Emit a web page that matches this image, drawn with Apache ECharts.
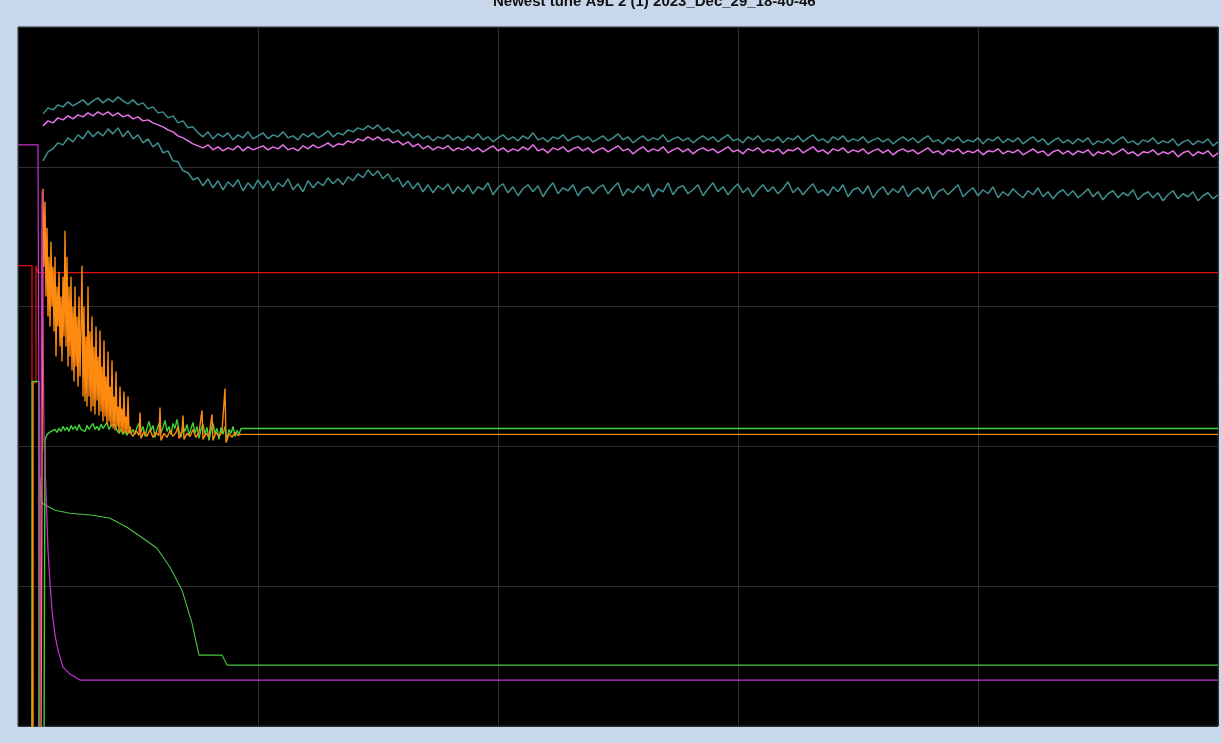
<!DOCTYPE html>
<html>
<head>
<meta charset="utf-8">
<script src="https://cdn.jsdelivr.net/npm/echarts@6/dist/echarts.min.js"></script>
<style>
html,body{margin:0;padding:0;background:#c8d8ea;}
#chart{width:1222px;height:743px;}
</style>
</head>
<body>
<div id="chart"></div>
<script>
// ---- axis ticks ----
const xTicks = [0, 240, 480, 720, 960, 1200];
const yTicks = [0, 140, 280, 420, 560, 700];
const titleText = 'Newest tune A9L 2 (1) 2023_Dec_29_18-40-46';

// ---- noisy traces, sampled every 5 time units from t = 25 ----
const noisyStart = 25, noisyStep = 5;
const tealUpper = [613,619,617,622,620,625,621,624,627,622,626,629,
 624,628,625,630,626,623,627,622,624,618,
 620,614,615,609,611,604,606,599,600,594,
 590,595,588,593,590,594,587,592,589,595,588,591,
 594,588,592,590,595,589,591,587,593,590,594,589,592,596,590,594,
 592,597,595,599,597,601,598,602,596,599,594,597,
 591,595,589,593,588,591,586,590,588,592,587,590,
 586,591,588,593,587,590,585,589,592,587,590,586,591,588,594,587,589,585,590,588,592,586,589,591,587,590,585,588,
 591,586,589,593,587,590,584,588,591,586,589,587,592,585,588,590,586,589,584,588,591,587,590,585,589,592,586,588,584,590,587,591,585,588,586,590,584,589,587,591,
 585,589,592,586,588,584,590,587,591,585,588,586,590,584,587,589,585,588,583,587,590,586,589,584,588,591,585,587,583,589,586,590,584,587,585,589,583,588,586,590,
 584,588,585,589,583,587,590,585,588,582,586,589,584,587,583,588,585,589,582,586,584,588,583,587,590,584,586,582,587,585,589,583,586,584,588,581,585,587,582,586,584,588,581,585];
const pinkMid = [601,606,604,609,607,611,608,612,610,614,611,615,
 612,615,611,614,610,612,608,610,606,607,
 604,602,600,597,595,591,589,586,583,581,
 579,582,577,580,576,579,577,581,576,580,577,579,
 581,577,580,578,582,577,579,576,581,578,582,579,581,584,580,583,
 582,586,584,588,586,590,587,590,586,588,584,586,
 582,585,580,583,578,581,577,580,578,581,576,579,
 577,580,576,579,575,578,581,576,579,575,578,576,580,577,582,576,578,574,579,577,580,575,578,580,576,579,574,577,
 579,575,578,581,576,578,573,577,580,575,578,576,580,574,577,579,575,578,573,577,579,576,578,574,577,580,575,577,573,578,576,579,574,577,575,578,573,577,576,579,
 574,577,580,575,577,573,578,576,579,574,577,575,578,573,576,578,574,577,572,576,578,575,577,573,576,579,574,576,572,577,575,578,573,576,574,577,572,576,575,578,
 573,576,574,577,572,575,578,574,576,571,575,577,573,576,572,576,574,577,571,575,573,576,572,575,578,573,575,571,575,574,577,572,575,573,576,570,574,576,571,575,573,576,570,574];
const tealLower = [566,575,578,584,582,589,585,592,588,596,590,595,
 591,598,593,599,590,596,588,592,584,588,
 580,584,574,576,566,565,556,554,547,549,
 541,548,539,546,537,545,540,547,536,544,538,547,
 539,546,536,544,540,548,537,543,535,546,539,545,541,549,543,548,
 542,550,546,553,549,557,551,556,548,553,545,549,
 540,546,538,544,535,542,534,541,537,543,533,540,
 535,542,533,540,537,544,532,539,543,534,540,531,538,542,535,541,530,538,544,533,539,536,542,531,538,540,533,539,
 542,533,539,544,531,538,534,541,536,543,530,538,535,544,532,539,541,533,537,542,531,538,544,535,540,532,538,543,534,539,530,537,542,535,540,533,538,545,534,539,
 532,538,543,534,537,531,540,535,542,530,537,539,533,541,529,536,540,532,538,534,541,530,536,539,533,540,528,535,538,532,537,542,530,535,539,531,537,533,540,529,
 535,531,538,533,529,536,532,539,530,535,528,534,537,531,536,529,533,538,530,535,527,533,536,529,534,531,537,527,532,535,529,534,526,532,536,528,533,530,535,526,531,534,528,532];

// ---- orange trace ----
const orangeLead = [[14,-20],[15,344],[15,-20],[23,-20],[25,538]];
const orangeBurstStart = 26, orangeBurstStep = 1;
const orangeBurst = [460,525,430,499,410,470,400,485,420,460,395,470,370,440,400,455,380,430,365,450,390,496,380,470,360,440,370,450,356,420,345,440,360,410,340,430,350,400,461,330,420,325,390,320,440,330,395,315,410,320,380,312,400,326,370,311,396,315,360,305,386,310,350,302,375,305,340,300,366,298,330,296,355,300,320,294,340,296,318,293,335,294,310,293,330,293,300,293];
const orangeTail = [[115,290],[118,296],[121,291],[122,314],[123,288],[126,295],[129,290],[132,297],[135,289],[138,294],[141,291],[142,319],[143,286],[146,293],[149,289],[152,296],[155,290],[158,294],[160,300],[161,288],[164,295],[165,311],[166,287],[169,293],[172,290],[175,297],[178,289],[181,294],[184,316],[185,287],[188,293],[191,290],[194,312],[195,286],[198,294],[201,290],[204,295],[207,338],[208,284],[211,293],[214,289],[217,294],[220,291],[223,292],[1200,292]];

// ---- bright green trace ----
const greenLead = [[14,-20],[14,345],[21,345],[21,-20],[26,-20],[27,287]];
const greenNoiseStart = 29, greenNoiseStep = 2;
const greenNoise = [292,290,295,293,297,294,298,295,300,296,299,295,301,297,300,296,302,297,299,295,301,297,300,303,297,300,296,302,298,300,304,297,301,299,302,296,293,297,292,295,291,296,293,297,292,299,303,295,300,290,298,305,296,301,289,297,303,294,299,306,295,300,292,303,298,307,296,289,300,295,302,291,298,304,293,300,288,297,302,292,299,286,296,303,293,298,287,299,292,300,286,297,293,300,290,296,292,298];
const greenTail = [[225,298],[1200,298]];

// ---- step / smooth traces ----
const redTrace = [[0,461],[14,461],[14,344],[18,344],[18,461],[20,454],[1200,454]];
const magentaTrace = [[0,582],[20,582],[22,-20],[23,-20],[24,536],[26,286],[28,236],[30,176],[32,143],[34,116],[37,91],[40,76],[45,59],[52,52],[62,46],[1200,46]];
const greenCurve = [[21,-20],[22,249],[23,230],[24,223],[37,216],[52,213],[75,211],[92,208],[109,199],[125,188],[139,178],[152,159],[164,136],[174,103],[181,71],[204,71],[209,61],[1200,61]];

function sampled(start, step, vals){ return vals.map((v,i)=>[start+i*step, v]); }

const chart = echarts.init(document.getElementById('chart'), null, {renderer:'canvas'});
const lineS = (name, data, color, width) => ({
  name, type:'line', data, showSymbol:false, symbol:'none', clip:true,
  lineStyle:{color, width}, itemStyle:{color}, animation:false, silent:true
});
chart.setOption({
  backgroundColor:'#c8d8ea',
  animation:false,
  title:{
    text:titleText, left:488, top:-11,
    textStyle:{fontFamily:'Liberation Sans', fontSize:15, fontWeight:'bold', color:'#111'}
  },
  grid:{left:18, top:27, width:1200, height:699, show:true, backgroundColor:'#000', borderColor:'#1e2430', borderWidth:1, containLabel:false},
  xAxis:{type:'value', min:xTicks[0], max:xTicks[xTicks.length-1], interval:xTicks[1]-xTicks[0],
    axisLine:{show:false}, axisTick:{show:false}, axisLabel:{show:false},
    splitLine:{show:true, lineStyle:{color:'#2e2e2e', width:1}}},
  yAxis:{type:'value', min:yTicks[0], max:yTicks[yTicks.length-1], interval:yTicks[1]-yTicks[0],
    axisLine:{show:false}, axisTick:{show:false}, axisLabel:{show:false},
    splitLine:{show:true, lineStyle:{color:'#2e2e2e', width:1}}},
  series:[
    lineS('tealUpper', sampled(noisyStart, noisyStep, tealUpper), '#3f8e8e', 1.5),
    lineS('tealLower', sampled(noisyStart, noisyStep, tealLower), '#3f8e8e', 1.5),
    lineS('pinkMid', sampled(noisyStart, noisyStep, pinkMid), '#e873e8', 1.5),
    lineS('red', redTrace, '#e01010', 1.3),
    lineS('greenCurve', greenCurve, '#4cc440', 1.1),
    lineS('greenNoise', greenLead.concat(sampled(greenNoiseStart, greenNoiseStep, greenNoise), greenTail), '#3fd03a', 1.4),
    lineS('orange', orangeLead.concat(sampled(orangeBurstStart, orangeBurstStep, orangeBurst), orangeTail), '#ff8a10', 1.4),
    lineS('magenta', magentaTrace, '#cc33cc', 1.2)
  ]
});
</script>
</body>
</html>
